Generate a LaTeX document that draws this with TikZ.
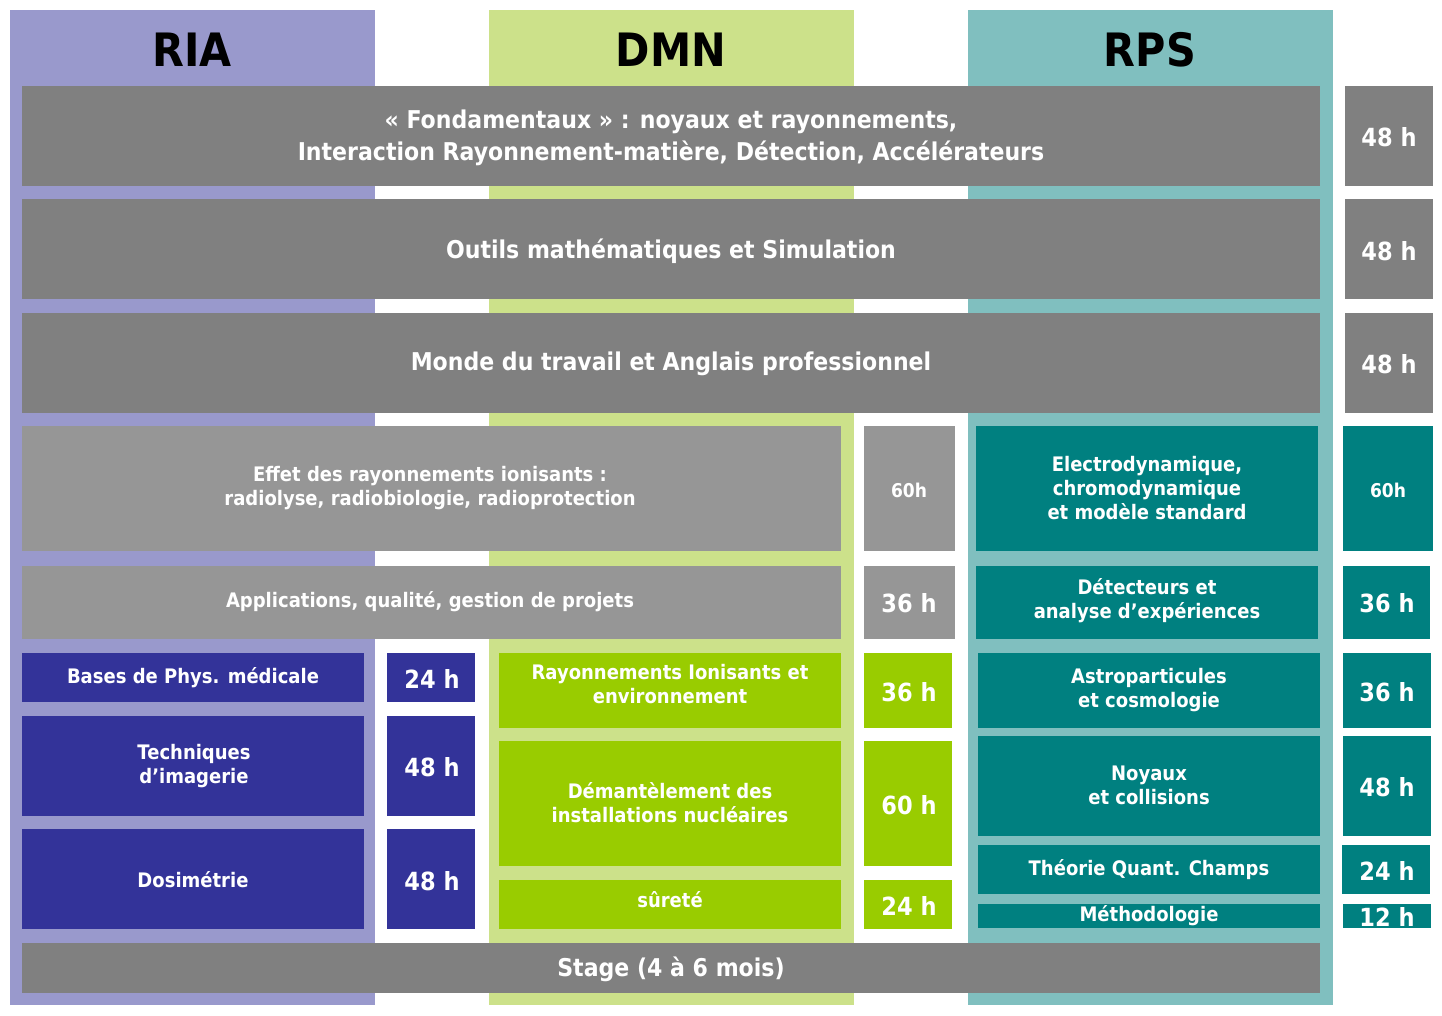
\documentclass[tikz,border=0pt]{standalone}
\usepackage{fontspec}
\setmainfont{DejaVu Sans}[FakeStretch=0.9]
\usetikzlibrary{fit}
\definecolor{lav}{HTML}{9999CC}
\definecolor{lgreen}{HTML}{CCE18A}
\definecolor{lteal}{HTML}{80BFBF}
\definecolor{dgray}{HTML}{808080}
\definecolor{mgray}{HTML}{969696}
\definecolor{navy}{HTML}{333399}
\definecolor{green}{HTML}{99CC00}
\definecolor{teal}{HTML}{008080}
\tikzset{
  col/.style={inner sep=0pt, outer sep=0pt, draw=none},
  box/.style={inner sep=0pt, outer sep=0pt, draw=none},
  txt/.style={inner sep=0pt, text=white, align=center, font=\bfseries\fontsize{20}{24}\selectfont},
  hrs/.style={txt, font=\bfseries\fontsize{25}{30}\selectfont},
  hrss/.style={txt, font=\bfseries\fontsize{19}{23}\selectfont},
  big/.style={txt, font=\bfseries\fontsize{24.5}{32}\selectfont},
  head/.style={inner sep=0pt, text=black, font=\bfseries\fontsize{46}{56}\selectfont}
}
\begin{document}
\begin{tikzpicture}[x=1pt,y=-1pt]
\useasboundingbox[fill=white] (0,0) rectangle (1442,1015);
% column backgrounds
\node[col, fill=lav, fit={(10,10)(375,1005)}] (ria) {};
\node[col, fill=lgreen, fit={(489,10)(854,1005)}] (dmn) {};
\node[col, fill=lteal, fit={(968,10)(1333,1005)}] (rps) {};
\node[head] (hria) at (192,50) {RIA};
\node[head] (hdmn) at (671,50) {DMN};
\node[head] (hrps) at (1150,50) {RPS};
% common
\node[box, fill=dgray, fit={(22,86)(1320,186)}] (fond) {};
\node[big] (tfond) at (671,138) {« Fondamentaux » : noyaux et rayonnements,\\Interaction Rayonnement-matière, Détection, Accélérateurs};
\node[box, fill=dgray, fit={(1345,86)(1433,186)}] (hfond) {};
\node[hrs] (thfond) at (1389,137) {48 h};
\node[box, fill=dgray, fit={(22,199)(1320,299)}] (outils) {};
\node[big] (toutils) at (671,251) {Outils mathématiques et Simulation};
\node[box, fill=dgray, fit={(1345,199)(1433,299)}] (houtils) {};
\node[hrs] (thoutils) at (1389,251) {48 h};
\node[box, fill=dgray, fit={(22,313)(1320,413)}] (monde) {};
\node[big] (tmonde) at (671,364) {Monde du travail et Anglais professionnel};
\node[box, fill=dgray, fit={(1345,313)(1433,413)}] (hmonde) {};
\node[hrs] (thmonde) at (1389,364) {48 h};
% RIA/DMN shared
\node[box, fill=mgray, fit={(22,426)(841,551)}] (effet) {};
\node[txt] (teffet) at (430,488) {Effet des rayonnements ionisants :\\radiolyse, radiobiologie, radioprotection};
\node[box, fill=mgray, fit={(864,426)(955,551)}] (heffet) {};
\node[hrss] (theffet) at (909,490) {60h};
\node[box, fill=mgray, fit={(22,566)(841,639)}] (appl) {};
\node[txt] (tappl) at (430,602) {Applications, qualité, gestion de projets};
\node[box, fill=mgray, fit={(864,566)(955,639)}] (happl) {};
\node[hrs] (thappl) at (909,603) {36 h};
% RIA
\node[box, fill=navy, fit={(22,653)(364,702)}] (bases) {};
\node[txt] (tbases) at (193,678) {Bases de Phys. médicale};
\node[box, fill=navy, fit={(387,653)(475,702)}] (hbases) {};
\node[hrs] (thbases) at (432,679) {24 h};
\node[box, fill=navy, fit={(22,716)(364,816)}] (tech) {};
\node[txt] (ttech) at (194,766) {Techniques\\d’imagerie};
\node[box, fill=navy, fit={(387,716)(475,816)}] (htech) {};
\node[hrs] (thtech) at (432,767) {48 h};
\node[box, fill=navy, fit={(22,829)(364,929)}] (dosi) {};
\node[txt] (tdosi) at (193,880) {Dosimétrie};
\node[box, fill=navy, fit={(387,829)(475,929)}] (hdosi) {};
\node[hrs] (thdosi) at (432,881) {48 h};
% DMN
\node[box, fill=green, fit={(499,653)(841,728)}] (rayo) {};
\node[txt] (trayo) at (670,684) {Rayonnements Ionisants et\\environnement};
\node[box, fill=green, fit={(864,653)(952,728)}] (hrayo) {};
\node[hrs] (thrayo) at (909,692) {36 h};
\node[box, fill=green, fit={(499,741)(841,866)}] (dem) {};
\node[txt] (tdem) at (670,803) {Démantèlement des\\installations nucléaires};
\node[box, fill=green, fit={(864,741)(952,866)}] (hdem) {};
\node[hrs] (thdem) at (909,805) {60 h};
\node[box, fill=green, fit={(499,880)(841,929)}] (sur) {};
\node[txt] (tsur) at (670,900) {sûreté};
\node[box, fill=green, fit={(864,880)(952,929)}] (hsur) {};
\node[hrs] (thsur) at (909,906) {24 h};
% RPS
\node[box, fill=teal, fit={(976,426)(1318,551)}] (elec) {};
\node[txt] (telec) at (1147,488) {Electrodynamique,\\chromodynamique\\et modèle standard};
\node[box, fill=teal, fit={(1343,426)(1433,551)}] (helec) {};
\node[hrss] (thelec) at (1388,490) {60h};
\node[box, fill=teal, fit={(976,566)(1318,639)}] (det) {};
\node[txt] (tdet) at (1147,601) {Détecteurs et\\analyse d’expériences};
\node[box, fill=teal, fit={(1343,566)(1430,639)}] (hdet) {};
\node[hrs] (thdet) at (1387,603) {36 h};
\node[box, fill=teal, fit={(978,653)(1320,728)}] (astro) {};
\node[txt] (tastro) at (1149,690) {Astroparticules\\et cosmologie};
\node[box, fill=teal, fit={(1343,653)(1431,728)}] (hastro) {};
\node[hrs] (thastro) at (1387,692) {36 h};
\node[box, fill=teal, fit={(978,736)(1320,836)}] (noy) {};
\node[txt] (tnoy) at (1149,785) {Noyaux\\et collisions};
\node[box, fill=teal, fit={(1343,736)(1431,836)}] (hnoy) {};
\node[hrs] (thnoy) at (1387,787) {48 h};
\node[box, fill=teal, fit={(978,845)(1320,894)}] (theo) {};
\node[txt] (ttheo) at (1149,870) {Théorie Quant. Champs};
\node[box, fill=teal, fit={(1342,845)(1430,894)}] (htheo) {};
\node[hrs] (ththeo) at (1387,871) {24 h};
\node[box, fill=teal, fit={(978,904)(1320,928)}] (meth) {};
\node[txt] (tmeth) at (1149,916) {Méthodologie};
\node[box, fill=teal, fit={(1343,904)(1431,928)}] (hmeth) {};
\node[hrs] (thmeth) at (1387,917) {12 h};
% Stage
\node[box, fill=dgray, fit={(22,943)(1320,993)}] (stage) {};
\node[big] (tstage) at (671,969) {Stage (4 à 6 mois)};
\end{tikzpicture}
\end{document}
